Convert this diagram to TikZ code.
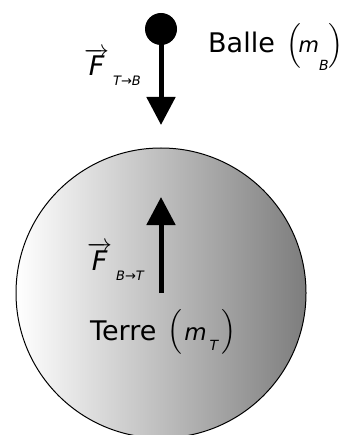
\documentclass[tikz,border=0pt]{standalone}
\usepackage{exscale}
\usepackage{fontspec}
\setmainfont{DejaVu Sans}
\usetikzlibrary{arrows.meta}
\tikzset{
  force/.style={line width=5pt, -{Triangle[width=28pt,length=28pt]}},
  lbl/.style={inner sep=0pt, anchor=base west, font=\fontsize{27}{30}\selectfont},
}
\newcommand{\vecF}[1]{$\overrightarrow{\hbox{\itshape F}}$\kern4pt\raisebox{-10pt}{\fontsize{13}{13}\selectfont\itshape #1}}
% #1 = slot (10 left, 11 right), #2 = size, #3 = raise
\newcommand{\tallparen}[3]{\raisebox{#3}{\fontsize{#2}{#2}\selectfont$\mathchar"03#1$}}
\begin{document}
\begin{tikzpicture}[x=1pt,y=-1pt]
\useasboundingbox (0,0) rectangle (345,435);
\begin{scope}
\clip (0,0) rectangle (345,435);
\shade[left color=white, right color={rgb,255:red,125;green,125;blue,125}, draw=black, line width=1pt]
  (161,293) circle (145);
\end{scope}
\node[draw=none, circle, minimum size=290pt, inner sep=0pt] (earth) at (161,293) {};
\node[circle, fill=black, minimum size=32pt, inner sep=0pt] (ball) at (161,29) {};
\coordinate (tipdown) at (161,125);
\coordinate (tipup) at (161,197);
\draw[force] (ball.center) -- (tipdown);
\draw[force] (earth.center) -- (tipup);
\node[lbl] (balle) at (208,53) {Balle\kern12pt\tallparen{10}{29}{28.8pt}\kern-3pt{\fontsize{21}{21}\selectfont\itshape m}\raisebox{-18pt}{\fontsize{14}{14}\selectfont\itshape B}\tallparen{11}{29}{28.8pt}};
\node[lbl] (terre) at (90,340) {Terre\kern11pt\tallparen{10}{23.3}{29.1pt}\kern2pt{\fontsize{23}{23}\selectfont\itshape m}\kern3pt\raisebox{-10pt}{\fontsize{14}{14}\selectfont\itshape T}\kern3pt\tallparen{11}{23.3}{29.1pt}};
\node[lbl] (ftb) at (84,76) {\vecF{T→B}};
\node[lbl] (fbt) at (87,270) {\vecF{B→T}};
\end{tikzpicture}
\end{document}
